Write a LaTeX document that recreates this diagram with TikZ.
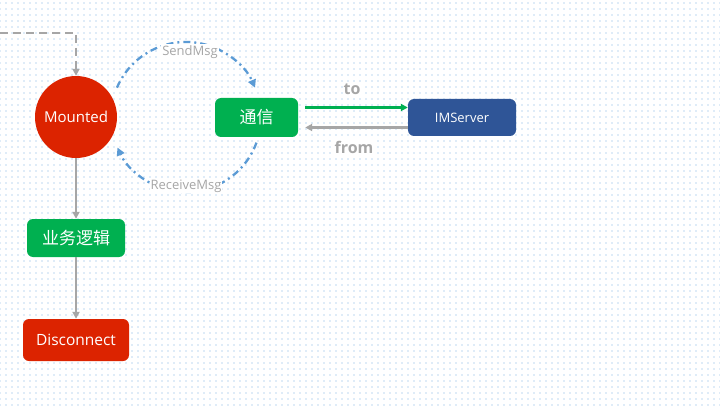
\documentclass[tikz,border=0pt]{standalone}
\usepackage{fontspec}
\setmainfont{Open Sans}
\newfontfamily\cjk{Noto Sans CJK SC}
\usetikzlibrary{patterns.meta,arrows.meta}
\definecolor{stopred}{HTML}{DC2300}
\definecolor{okgreen}{HTML}{00B050}
\definecolor{srvblue}{HTML}{2F5597}
\definecolor{linegray}{HTML}{A6A6A6}
\definecolor{msgblue}{HTML}{5B9BD5}
\definecolor{dotblue}{HTML}{78AEE2}
\begin{document}
\begin{tikzpicture}[x=1pt,y=1pt,
  state/.style = {draw=none, text=white, minimum width=#1, rounded corners=6pt},
  flow/.style = {draw=linegray, line width=2.3pt, -{Triangle[length=7pt,width=7pt]}},
  msg/.style = {draw=msgblue, line width=2.3pt, dash pattern=on 7pt off 4pt on 2pt off 4pt, -{Triangle[length=8pt,width=8pt]}},
  tag/.style = {text=linegray, fill=white, inner sep=1pt}]
  \useasboundingbox (0,0) rectangle (720,405);
  \fill[white] (0,0) rectangle (720,405);
  \fill[pattern={Dots[distance=6pt,radius=0.7pt]}, pattern color=dotblue] (0,0) rectangle (720,405);
  \node[circle, fill=stopred, text=white, minimum size=82pt, inner sep=0pt, font=\fontsize{15}{18}\selectfont] (mounted) at (76,288) {Mounted};
  \node[state=83pt, fill=okgreen, minimum height=39pt, font=\cjk\fontsize{17}{20}\selectfont] (comm) at (256.5,287.5) {通信};
  \node[state=108pt, fill=srvblue, minimum height=37pt, font=\fontsize{13}{16}\selectfont] (imserver) at (462,287.5) {IMServer};
  \node[state=98pt, fill=okgreen, minimum height=38pt, font=\cjk\fontsize{17}{20}\selectfont] (logic) at (76,167) {业务逻辑};
  \node[state=106pt, fill=stopred, minimum height=42pt, font=\fontsize{15.5}{19}\selectfont] (disconnect) at (76,65) {Disconnect};
  \coordinate (entry) at (0,372);
  \coordinate (loop) at (186,288);
  \draw[flow, dash pattern=on 8pt off 5pt] (entry) -| (mounted.north);
  \draw[flow] (mounted.south) -- (logic.north);
  \draw[flow] (logic.south) -- (disconnect.north);
  \draw[msg] (loop) ++(157:75) arc[start angle=157, end angle=23, radius=75];
  \draw[msg] (loop) ++(-20:75) arc[start angle=-20, end angle=-156, radius=75];
  \node[tag, font=\fontsize{13}{15}\selectfont] (send) at (190,353) {SendMsg};
  \node[tag, font=\fontsize{13}{15}\selectfont, inner sep=0.5pt] (receive) at (186,219) {ReceiveMsg};
  \draw[draw=okgreen, line width=2.3pt, -{Triangle[length=7pt,width=7pt]}] ([xshift=7pt,yshift=10pt]comm.east) -- ([yshift=10pt]imserver.west);
  \draw[flow] ([yshift=-10pt]imserver.west) -- ([xshift=7pt,yshift=-10pt]comm.east);
  \node[tag, font=\bfseries\fontsize{16}{19}\selectfont] (to) at (352,316) {to};
  \node[tag, font=\bfseries\fontsize{16}{19}\selectfont] (from) at (354,258) {from};
\end{tikzpicture}
\end{document}
